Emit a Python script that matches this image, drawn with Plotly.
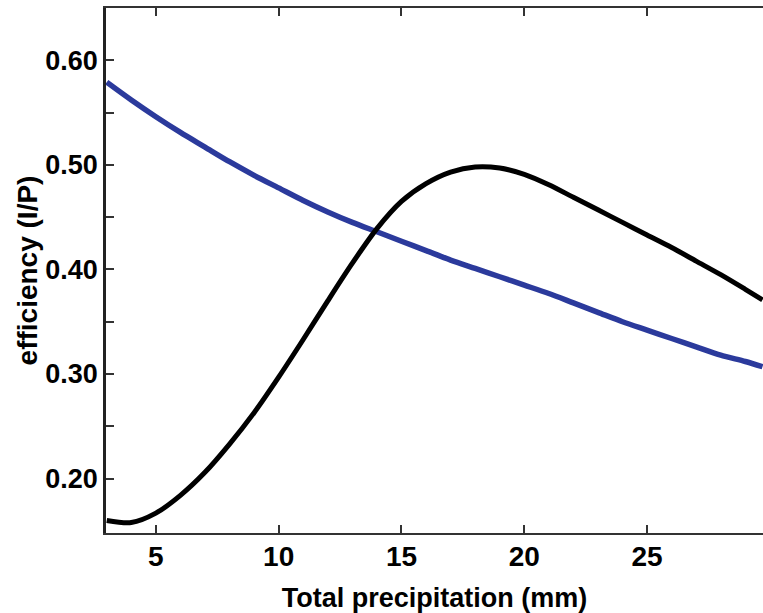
import plotly.graph_objects as go

# Total precipitation (mm)
x_vals = [3, 4, 5, 6, 7, 8, 9, 10, 11, 12, 13, 14, 15, 16, 17, 18, 19, 20, 21, 22, 23, 24, 25, 26, 27, 28, 29, 29.7]
# blue curve
y_blue = [0.579, 0.562, 0.546, 0.531, 0.517, 0.503, 0.490, 0.478, 0.466, 0.455, 0.445, 0.436, 0.427, 0.418,
          0.409, 0.401, 0.393, 0.385, 0.377, 0.368, 0.359, 0.350, 0.342, 0.334, 0.326, 0.318, 0.312, 0.307]
# black curve
y_black = [0.160, 0.158, 0.167, 0.184, 0.206, 0.233, 0.263, 0.297, 0.333, 0.370, 0.406, 0.439, 0.465, 0.482,
           0.493, 0.498, 0.497, 0.491, 0.481, 0.469, 0.457, 0.445, 0.433, 0.421, 0.408, 0.395, 0.381, 0.371]

y_tickvals = [0.20, 0.25, 0.30, 0.35, 0.40, 0.45, 0.50, 0.55, 0.60]
y_ticktext = ["0.20", "", "0.30", "", "0.40", "", "0.50", "", "0.60"]
x_tickvals = [5, 10, 15, 20, 25]
x_ticktext = ["5", "10", "15", "20", "25"]

fig = go.Figure()
fig.add_trace(go.Scatter(x=x_vals, y=y_blue, mode="lines",
                         line=dict(color="#2b3a9c", width=5.5, shape="spline", smoothing=0.8),
                         showlegend=False))
fig.add_trace(go.Scatter(x=x_vals, y=y_black, mode="lines",
                         line=dict(color="#000000", width=5, shape="spline", smoothing=0.8),
                         showlegend=False))

font_family = "Liberation Sans, Arial, sans-serif"
fig.update_layout(
    width=763, height=613,
    margin=dict(l=106, r=0, t=8, b=80, autoexpand=False),
    paper_bgcolor="white", plot_bgcolor="white",
    font=dict(family=font_family, color="black"),
    xaxis=dict(
        range=[2.97, 29.72], tickvals=x_tickvals, ticktext=x_ticktext,
        ticks="inside", ticklen=8, tickwidth=1.5, tickcolor="#333",
        showline=True, linecolor="#333", linewidth=2, mirror="ticks",
        showgrid=False, zeroline=False, automargin=False,
        ticklabelstandoff=-3,
        tickfont=dict(size=28, family=font_family, weight="bold"),
        title=dict(text="<b>Total precipitation (mm)</b>", font=dict(size=27), standoff=18),
    ),
    yaxis=dict(
        range=[0.148, 0.650], tickvals=y_tickvals, ticktext=y_ticktext,
        ticks="inside", ticklen=8, tickwidth=1.5, tickcolor="#333",
        showline=True, linecolor="#222", linewidth=2.5, mirror=False,
        showgrid=False, zeroline=False, automargin=False,
        tickfont=dict(size=27, family=font_family, weight="bold"),
        title=dict(text="<b>efficiency (I/P)</b>", font=dict(size=28), standoff=0),
    ),
)

fig.write_html(
    "out.html",
    config={"displayModeBar": False},
    post_script="document.body.style.margin='0';document.body.style.overflow='hidden';",
)
